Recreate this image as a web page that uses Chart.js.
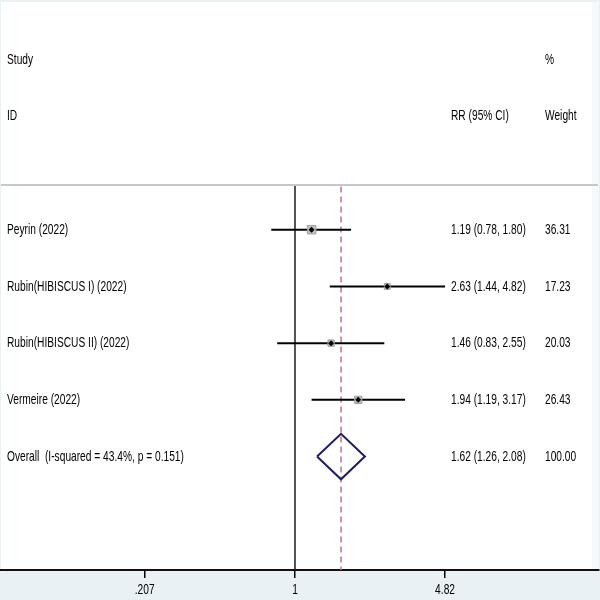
<!DOCTYPE html>
<html>
<head>
<meta charset="utf-8">
<script src="https://cdn.jsdelivr.net/npm/chart.js@4.4.1/dist/chart.umd.min.js"></script>
<style>
  html, body { margin: 0; padding: 0; background: #e9f1f4; }
  #wrap { width: 600px; height: 600px; }
</style>
</head>
<body>
<div id="wrap"><canvas id="forest" width="600" height="600"></canvas></div>
<script>
// ---- data ----
const studies = ['Peyrin (2022)', 'Rubin(HIBISCUS I) (2022)', 'Rubin(HIBISCUS II) (2022)', 'Vermeire (2022)'];
const rr = [1.19, 2.63, 1.46, 1.94];
const lower = [0.78, 1.44, 0.83, 1.19];
const upper = [1.80, 4.82, 2.55, 3.17];
const weights = [36.31, 17.23, 20.03, 26.43];
const ciText = ['1.19 (0.78, 1.80)', '2.63 (1.44, 4.82)', '1.46 (0.83, 2.55)', '1.94 (1.19, 3.17)'];
const weightText = ['36.31', '17.23', '20.03', '26.43'];

const overallLabel = 'Overall  (I-squared = 43.4%, p = 0.151)';
const overallRR = 1.62;
const overallLower = 1.26;
const overallUpper = 2.08;
const overallCIText = '1.62 (1.26, 2.08)';
const overallWeightText = '100.00';

const xTicks = [0.207, 1, 4.82];
const xTickLabels = ['.207', '1', '4.82'];

// ---- layout helpers (row units on y scale) ----
const rowOverall = studies.length;  // 4
const rowTop = -4.05, rowBottom = 6;
const sepRow = -0.79;
const xMin = 0.0459, xMax = 24.2;

const FONT = '15px "Liberation Sans", Arial, sans-serif';
const SX = 0.68; // condensed text like the Stata export

function txt(ctx, s, x, y) {
  ctx.save();
  ctx.scale(SX, 1);
  ctx.fillText(s, x / SX, y);
  ctx.restore();
}

// ---- datasets ----
const ciSets = studies.map((s, i) => ({
  type: 'line',
  data: [{ x: lower[i], y: i }, { x: upper[i], y: i }],
  borderColor: '#000',
  borderWidth: 2,
  pointRadius: 0,
  order: 5
}));

const boxes = {
  type: 'scatter',
  data: rr.map((v, i) => ({ x: v, y: i })),
  pointStyle: 'rect',
  pointRadius: weights.map(w => Math.sqrt(w)),
  backgroundColor: '#bdbdbd',
  borderColor: '#a0a0a0',
  borderWidth: 1,
  order: 3
};

const markers = {
  type: 'scatter',
  data: rr.map((v, i) => ({ x: v, y: i })),
  pointStyle: 'rectRot',
  pointRadius: 3,
  backgroundColor: '#000',
  borderColor: '#000',
  borderWidth: 0,
  order: 1
};

const diamond = {
  type: 'line',
  data: [
    { x: overallLower, y: rowOverall },
    { x: overallRR, y: rowOverall - 0.4 },
    { x: overallUpper, y: rowOverall },
    { x: overallRR, y: rowOverall + 0.4 },
    { x: overallLower, y: rowOverall }
  ],
  borderColor: '#1c1c6b',
  borderWidth: 2,
  pointRadius: 0,
  tension: 0,
  order: 2
};

const nullLine = {
  type: 'line',
  data: [{ x: 1, y: sepRow + 0.02 }, { x: 1, y: rowBottom }],
  borderColor: '#1a1a1a',
  borderWidth: 1.5,
  pointRadius: 0,
  order: 7
};

const overallLine = {
  type: 'line',
  data: [{ x: overallRR, y: sepRow + 0.03 }, { x: overallRR, y: rowBottom }],
  borderColor: '#c4747e',
  borderWidth: 1.5,
  borderDash: [6, 4],
  pointRadius: 0,
  order: 6
};

// ---- background + text plugin ----
const forestText = {
  id: 'forestText',
  beforeDraw(chart) {
    const ctx = chart.ctx;
    ctx.save();
    ctx.fillStyle = '#e9f1f4';
    ctx.fillRect(0, 0, 600, 600);
    ctx.fillStyle = '#f6f9fa';
    ctx.fillRect(592, 2, 7, chart.chartArea.bottom - 2);
    ctx.fillStyle = '#fff';
    ctx.fillRect(1, 2, 591, chart.chartArea.bottom - 2);
    const ys = chart.scales.y.getPixelForValue(sepRow);
    ctx.strokeStyle = '#c8c8c8';
    ctx.lineWidth = 2;
    ctx.beginPath();
    ctx.moveTo(1, ys);
    ctx.lineTo(598, ys);
    ctx.stroke();
    ctx.restore();
  },
  afterDraw(chart) {
    const ctx = chart.ctx;
    const y = chart.scales.y;
    ctx.save();
    ctx.font = FONT;
    ctx.fillStyle = '#000';
    ctx.textBaseline = 'middle';
    ctx.textAlign = 'left';
    const colL = 7, colCI = 451, colW = 545;
    txt(ctx, 'Study', colL, y.getPixelForValue(-3));
    txt(ctx, '%', colW, y.getPixelForValue(-3));
    txt(ctx, 'ID', colL, y.getPixelForValue(-2));
    txt(ctx, 'RR (95% CI)', colCI, y.getPixelForValue(-2));
    txt(ctx, 'Weight', colW, y.getPixelForValue(-2));
    studies.forEach((s, i) => {
      const py = y.getPixelForValue(i);
      txt(ctx, s, colL, py);
      txt(ctx, ciText[i], colCI, py);
      txt(ctx, weightText[i], colW, py);
    });
    const po = y.getPixelForValue(rowOverall);
    txt(ctx, overallLabel, colL, po);
    txt(ctx, overallCIText, colCI, po);
    txt(ctx, overallWeightText, colW, po);

    // x tick labels, condensed like the rest of the text
    const x = chart.scales.x;
    ctx.textAlign = 'center';
    xTicks.forEach((v, i) => {
      const px = x.getPixelForValue(v);
      ctx.save();
      ctx.scale(SX, 1);
      ctx.fillText(xTickLabels[i], px / SX, 590);
      ctx.restore();
    });
    ctx.restore();
  }
};

new Chart(document.getElementById('forest'), {
  type: 'scatter',
  data: { datasets: [...ciSets, boxes, markers, diamond, nullLine, overallLine] },
  options: {
    responsive: false,
    animation: false,
    layout: { autoPadding: false, padding: { left: 1, right: 1, top: 0, bottom: 0 } },
    plugins: { legend: { display: false }, tooltip: { enabled: false } },
    scales: {
      x: {
        type: 'logarithmic',
        min: xMin,
        max: xMax,
        afterBuildTicks: s => { s.ticks = xTicks.map(v => ({ value: v })); },
        afterFit: s => { s.height = 30; },
        grid: { drawOnChartArea: false, drawTicks: true, tickLength: 8, color: '#000', lineWidth: 1.5 },
        border: { display: true, color: '#111', width: 2 },
        ticks: { display: false }
      },
      y: {
        type: 'linear',
        reverse: true,
        min: rowTop,
        max: rowBottom,
        display: false
      }
    }
  },
  plugins: [forestText]
});
</script>
</body>
</html>
